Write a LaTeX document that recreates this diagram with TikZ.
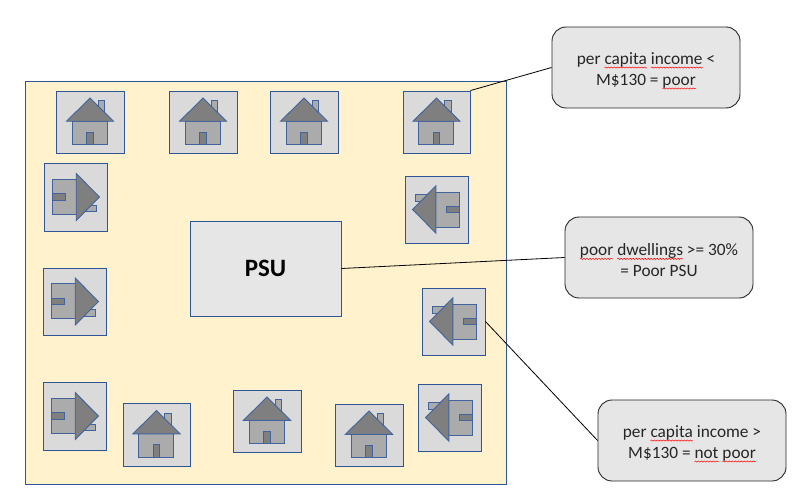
\documentclass[tikz,border=0pt]{standalone}
\usepackage{fontspec}
\setmainfont{Carlito}
\usetikzlibrary{calc,decorations.pathmorphing}
\definecolor{panelfill}{HTML}{FFF2CC}
\definecolor{edgeblue}{HTML}{2F5597}
\definecolor{houseline}{HTML}{41649F}
\definecolor{tilefill}{HTML}{DADADA}
\definecolor{wallfill}{HTML}{ABABAB}
\definecolor{rooffill}{HTML}{7F7F7F}
\definecolor{notefill}{HTML}{E7E6E6}
\definecolor{notetext}{HTML}{262626}
\newsavebox\squigbox
\def\squig#1{\sbox\squigbox{#1}\leavevmode\rlap{\usebox\squigbox}\tikz[baseline=0pt, sharp corners]{\path[use as bounding box] (0, 0) rectangle (\wd\squigbox, 0); \draw[red, line width=0.5pt, decorate, decoration={snake, amplitude=0.6pt, segment length=3pt}] (0, -3.2pt) -- (\wd\squigbox, -3.2pt);}}
\tikzset{
	tile/.style={draw=edgeblue, fill=tilefill, line width=0.9pt, inner sep=0pt},
	note/.style={draw=black!85, fill=notefill, rounded corners=14pt, line width=0.9pt, minimum width=188pt, minimum height=81pt, align=center, text=notetext, font=\fontsize{17.3pt}{21pt}\selectfont},
	wall/.style={draw=houseline, fill=wallfill, line width=0.9pt},
	roof/.style={draw=houseline, fill=rooffill, line width=0.9pt},
	link/.style={draw=black, line width=0.8pt}
}
\def\notestrut{\rule{0pt}{17.5pt}}
% tile with a dwelling on it: (name)(x,y)(width:height:turn)
\def\dwelling(#1)(#2)(#3:#4:#5){
	\node[tile, minimum width=#3pt, minimum height=#4pt] (#1) at (#2) {};
	\begin{scope}[shift={(#1.center)}, rotate=#5]
		\draw[wall] (8.3, 9.5) rectangle (14.7, 21.3);
		\draw[wall] (-17.7, -22.7) rectangle (17.3, 0.7);
		\draw[roof] (-3.3, -22.7) rectangle (3.3, -10.3);
		\draw[roof] (-23.5, 0.7) -- (0, 24) -- (23.5, 0.7) -- cycle;
	\end{scope}
}
\begin{document}
\begin{tikzpicture}[x=1pt, y=1pt]
	\useasboundingbox (0, 0) rectangle (802, 499);
	%%%%% PANEL %%%%%
	\node[draw=edgeblue, fill=panelfill, line width=0.9pt, minimum width=481pt, minimum height=403pt, inner sep=0pt] (panel) at (265.5, 216.5) {};

	%%%%% DWELLINGS %%%%%
	\dwelling(top1)(90, 377)(68:62:0)
	\dwelling(top2)(203, 377)(68:62:0)
	\dwelling(top3)(304, 377)(68:62:0)
	\dwelling(top4)(436.5, 377)(67:62:0)

	\dwelling(left1)(75.5, 302)(63:68:-90)
	\dwelling(left2)(74.5, 197.5)(63:67:-90)
	\dwelling(left3)(74.5, 83)(63:68:-90)

	\dwelling(right1)(436.5, 289.5)(63:67:90)
	\dwelling(right2)(453.5, 177.5)(63:67:90)
	\dwelling(right3)(449.5, 81.5)(63:67:90)

	\dwelling(low1)(156.5, 64.5)(67:63:0)
	\dwelling(low2)(267, 78)(68:62:0)
	\dwelling(low3)(369, 64)(68:62:0)

	%%%%% PSU %%%%%
	\node[draw=edgeblue, fill=notefill, line width=0.9pt, minimum width=151pt, minimum height=95pt, inner sep=0pt, text=black, font=\fontsize{25pt}{28pt}\selectfont\bfseries] (psu) at (265.5, 230.5) {PSU};

	%%%%% NOTES %%%%%
	\node[note] (poornote) at (646, 431.5) {\notestrut per \squig{capita} \squig{income} <\\M\$130 = \squig{poor}};
	\node[note] (psunote) at (659, 241.5) {\notestrut\squig{poor} \squig{dwellings} >= 30\%\\= Poor PSU};
	\node[note] (richnote) at (692, 58.5) {\notestrut per \squig{capita} income >\\M\$130 = \squig{not} \squig{poor}};

	\draw[link] (top4.north east) -- (poornote.west);
	\draw[link] (psu.east) -- (psunote.west);
	\draw[link] (right2.east) -- (richnote.west);
\end{tikzpicture}
\end{document}
